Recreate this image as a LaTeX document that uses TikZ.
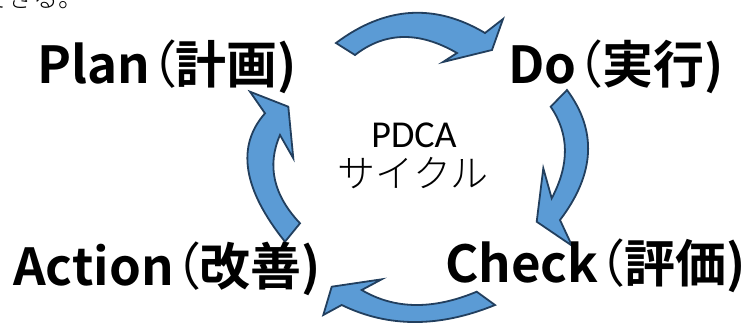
\documentclass[tikz,border=0pt]{standalone}
\usepackage{fontspec}
\setmainfont{Carlito}
\newfontfamily\jpb[RawFeature=+palt]{Noto Sans CJK JP Bold}
\newfontfamily\jpp[RawFeature=+palt]{Noto Sans CJK JP}
\newfontfamily\jpl{Noto Sans CJK JP Light}
\newcommand\lpar{{\jpp （}}
\definecolor{arrfill}{HTML}{5B9BD5}
\definecolor{arrline}{HTML}{223F5E}
\begin{document}
\begin{tikzpicture}[x=1pt,y=-1pt,
  blockarrow/.style={fill=arrfill,draw=arrline,line width=1.8pt,line join=miter},
  lbl/.style={inner sep=0pt,anchor=base west,font=\jpb\fontsize{51}{60}\selectfont}]
\useasboundingbox (0,0) rectangle (756,325);
\begin{scope}
\clip (0,0) rectangle (756,325);
% cropped text fragment at the top
\node[inner sep=0pt,anchor=base west,font=\jpl\fontsize{25}{28}\selectfont] (frag) at (-16.5,7) {できる。};
% top arrow (Plan -> Do)
\draw[blockarrow] (336,43) .. controls (385,6.3) and (434.7,3) .. (485,33) -- (503,19) -- (492,50) -- (443,62) -- (457,53) .. controls (419,31) and (385,31.7) .. (355,55) -- cycle;
% right arrow (Do -> Check)
\draw[blockarrow] (567,90) .. controls (597.3,130.7) and (595,174) .. (560,220) -- (572,245.7) -- (536.7,221.7) -- (543.3,168.3) -- (551.7,198.3) .. controls (569.7,164.3) and (569.3,134) .. (550.7,106.7) -- cycle;
% bottom arrow (Check -> Action)
\draw[blockarrow] (495,305) .. controls (439.3,327.7) and (388.3,327.7) .. (341.7,305) -- (323.3,315) -- (331.7,286.7) -- (381.7,279.3) -- (361.7,290) .. controls (394.4,309.4) and (432.8,310) .. (476.7,291.7) -- cycle;
% left arrow (Action -> Plan)
\draw[blockarrow] (285,241.7) .. controls (242.7,188.9) and (236.1,146.1) .. (265,113.3) -- (250,91.7) -- (288.3,106.7) -- (293.3,158.3) -- (280,135) .. controls (266.7,165.6) and (273.3,195) .. (300,223.3) -- cycle;
% labels
\node[lbl] (plan) at (37,83) {Plan\lpar 計画)};
\node[lbl] (do) at (508,83) {Do\lpar 実行)};
\node[lbl] (check) at (445,282) {Check\lpar 評価)};
\node[lbl] (action) at (13,285) {Action\lpar 改善)};
\node[inner sep=0pt,anchor=base,font=\fontsize{38}{40}\selectfont] (pdca) at (414,147) {PDCA};
\node[inner sep=0pt,anchor=base,font=\jpl\fontsize{38}{40}\selectfont] (cycle) at (413,187) {サイクル};
\end{scope}
\end{tikzpicture}
\end{document}
